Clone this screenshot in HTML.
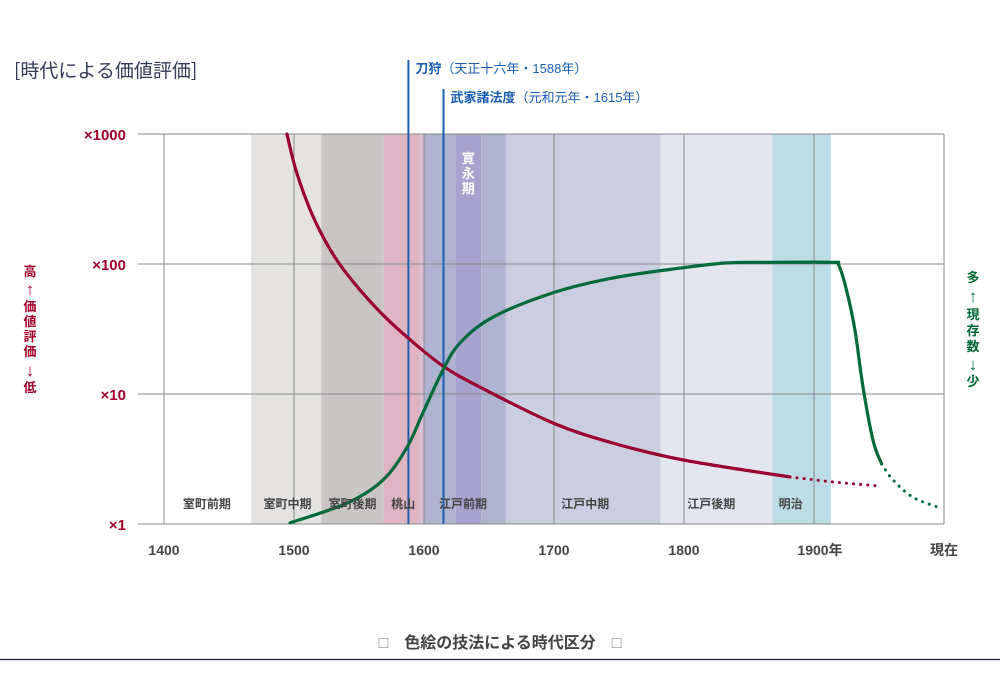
<!DOCTYPE html>
<html><head><meta charset="utf-8"><style>
body{margin:0;background:#fff;}
svg{display:block;font-family:"Liberation Sans","Noto Sans CJK JP",sans-serif;}
</style></head><body>
<svg id="chart" width="1000" height="695" viewBox="0 0 1000 695">
<text x="14" y="77" font-size="19" fill="#333a55" font-family="Noto Sans CJK JP, sans-serif">[時代による価値評価]</text>
<g id="bands"></g>
<g id="grid"></g>
<g id="events"></g>
<g id="series"></g>
<g id="labels"></g>
<g fill="#a0002a" font-size="13" font-weight="bold" text-anchor="middle">
<text x="30" y="276">高</text><text x="30" y="295" font-size="17" font-weight="normal">↑</text><text x="30" y="311">価</text><text x="30" y="326">値</text><text x="30" y="341">評</text><text x="30" y="356">価</text><text x="30" y="376" font-size="17" font-weight="normal">↓</text><text x="30" y="392">低</text>
</g>
<g fill="#006633" font-size="13" font-weight="bold" text-anchor="middle">
<text x="973" y="282">多</text><text x="973" y="302" font-size="17" font-weight="normal">↑</text><text x="973" y="319">現</text><text x="973" y="335">存</text><text x="973" y="351">数</text><text x="973" y="370" font-size="17" font-weight="normal">↓</text><text x="973" y="386">少</text>
</g>
<text x="500" y="648" text-anchor="middle" font-size="16" font-weight="bold" fill="#444"><tspan fill="#888" font-weight="normal">□</tspan>　色絵の技法による時代区分　<tspan fill="#888" font-weight="normal">□</tspan></text>
<line x1="0" y1="659.5" x2="1000" y2="659.5" stroke="#1a1f45" stroke-width="1.2"/>
</svg>
<script>
const NS="http://www.w3.org/2000/svg";
const xTicks=[1400,1500,1600,1700,1800,1900,2000];
const xTickLabels=["1400","1500","1600","1700","1800","1900年","現在"];
const yTicks=[1,10,100,1000];
const yTickLabels=["×1","×10","×100","×1000"];
const bandStarts=[1467,1521,1569,1597,1600,1624,1644,1663,1782];
const bandEnds=[1521,1569,1597,1600,1624,1644,1663,1782,1868];
const bandColors=["#e4e3e1","#c9c5c4","#dfb5c6","#d9c0d6","#aeb4d0","#a8a2cf","#aeb4d0","#cbcee0","#e4e6ef"];
const meijiBand=[1868,1913];
const eraNames=["室町前期","室町中期","室町後期","桃山","江戸前期","江戸中期","江戸後期","明治"];
const eraLabelYears=[1433,1495,1545,1584,1630,1724,1821,1882];
const eventYears=[1588,1615];
const eventNames=["刀狩","武家諸法度"];
const eventNotes=["（天正十六年・1588年）","（元和元年・1615年）"];
const valueYears=[1494.6,1500.8,1510,1520,1533.8,1550.8,1568.5,1587.7,1614.6,1643,1699,1745,1800,1881.5];
const valueVals=[1000,557,300,179,104,63,40.5,27,16.4,11.3,6.0,4.2,3.1,2.3];
const valueDotYears=[1881.5,1916,1950.8];
const valueDotVals=[2.3,2.1,1.96];
const countYears=[1497,1541,1568.5,1587,1599,1614.6,1627.7,1653,1699,1745,1797,1833,1868,1914,1919,1925,1931.5,1937.7,1945.4,1952];
const countVals=[1.02,1.45,2.18,3.9,7.1,15.3,24.7,39,60,78,93,102,103,103,98,63,31,11.3,4.4,2.9];
const countDotYears=[1952,1960.8,1976,1995];
const countDotVals=[2.9,2.18,1.61,1.35];

const X=y=>164+(y-1400)*1.3;
const Y=v=>524-Math.log10(v)*130;
function mk(tag,attrs,parent,text){const e=document.createElementNS(NS,tag);for(const k in attrs)e.setAttribute(k,attrs[k]);if(text!==undefined)e.textContent=text;parent.appendChild(e);return e;}
const bands=document.getElementById('bands'),grid=document.getElementById('grid'),ev=document.getElementById('events'),ser=document.getElementById('series'),lab=document.getElementById('labels');
bandStarts.forEach((s,i)=>{
  const r=mk('rect',{x:X(s),y:134,width:X(bandEnds[i])-X(s),height:390,fill:bandColors[i]},bands);
  
  
});
const mr=mk('rect',{x:X(meijiBand[0]),y:134,width:X(meijiBand[1])-X(meijiBand[0]),height:390,fill:"#bddde6"},bands);


const kt=mk('text',{x:X(1634),y:0,fill:"#fff","font-size":13,"font-weight":"bold","text-anchor":"middle"},bands);


["寛","永","期"].forEach((c,i)=>mk('tspan',{x:X(1634),y:163+i*15},kt,c));
yTicks.forEach((v,i)=>{
  const l=mk('line',{x1:138,x2:944,y1:Y(v),y2:Y(v),stroke:"#888","stroke-width":1},grid);
  
  
  const t=mk('text',{x:126,y:Y(v)+6,"text-anchor":"end","font-size":15,"font-weight":"bold",fill:"#a0002a"},lab,yTickLabels[i]);
  
  
});
xTicks.forEach((yr,i)=>{
  const l=mk('line',{x1:X(yr),x2:X(yr),y1:134,y2:524,stroke:"#888","stroke-width":1},grid);
  
  
  const t=mk('text',{x:X(yr)+(i==5?6:0),y:555,"text-anchor":"middle","font-size":14,"font-weight":"bold",fill:"#444"},lab,xTickLabels[i]);
  
  
});
eraNames.forEach((n,i)=>{
  const t=mk('text',{x:X(eraLabelYears[i]),y:508,"text-anchor":"middle","font-size":12,"font-weight":"bold",fill:"#444"},lab,n);
  
  
});
const eventTop=[60,89];
eventYears.forEach((yr,i)=>{
  const l=mk('line',{x1:X(yr),x2:X(yr),y1:eventTop[i],y2:524,stroke:"#1a5fb0","stroke-width":2},ev);
  
  
  const t=mk('text',{x:X(yr)+7,y:eventTop[i]+13,"font-size":13,fill:"#1a5fb0"},ev);
  
  
  mk('tspan',{"font-weight":"bold"},t,eventNames[i]);
  mk('tspan',{},t,eventNotes[i]);
});
function path(xs,vs){
  const p=xs.map((x,i)=>[X(x),Y(vs[i])]);
  let d="M"+p[0][0]+","+p[0][1];
  for(let i=0;i<p.length-1;i++){
    const p0=p[i-1]||p[i],p1=p[i],p2=p[i+1],p3=p[i+2]||p2;
    const c1=[p1[0]+(p2[0]-p0[0])/6,p1[1]+(p2[1]-p0[1])/6];
    const c2=[p2[0]-(p3[0]-p1[0])/6,p2[1]-(p3[1]-p1[1])/6];
    d+=" C"+c1+" "+c2+" "+p2;
  }
  return d;
}
function draw(xs,vs,color,dotted,name){
  const a={d:path(xs,vs),fill:"none",stroke:color,"stroke-width":dotted?3:3.2,"stroke-linecap":"round"};
  if(dotted)a["stroke-dasharray"]="0.1 7";
  const e=mk('path',a,ser);
  
  
}
draw(valueYears,valueVals,"#9a0030",false,'value-curve');
draw(valueDotYears,valueDotVals,"#9a0030",true,'value-curve-projection');
draw(countYears,countVals,"#006a3a",false,'count-curve');
draw(countDotYears,countDotVals,"#006a3a",true,'count-curve-projection');
</script>
</body></html>
